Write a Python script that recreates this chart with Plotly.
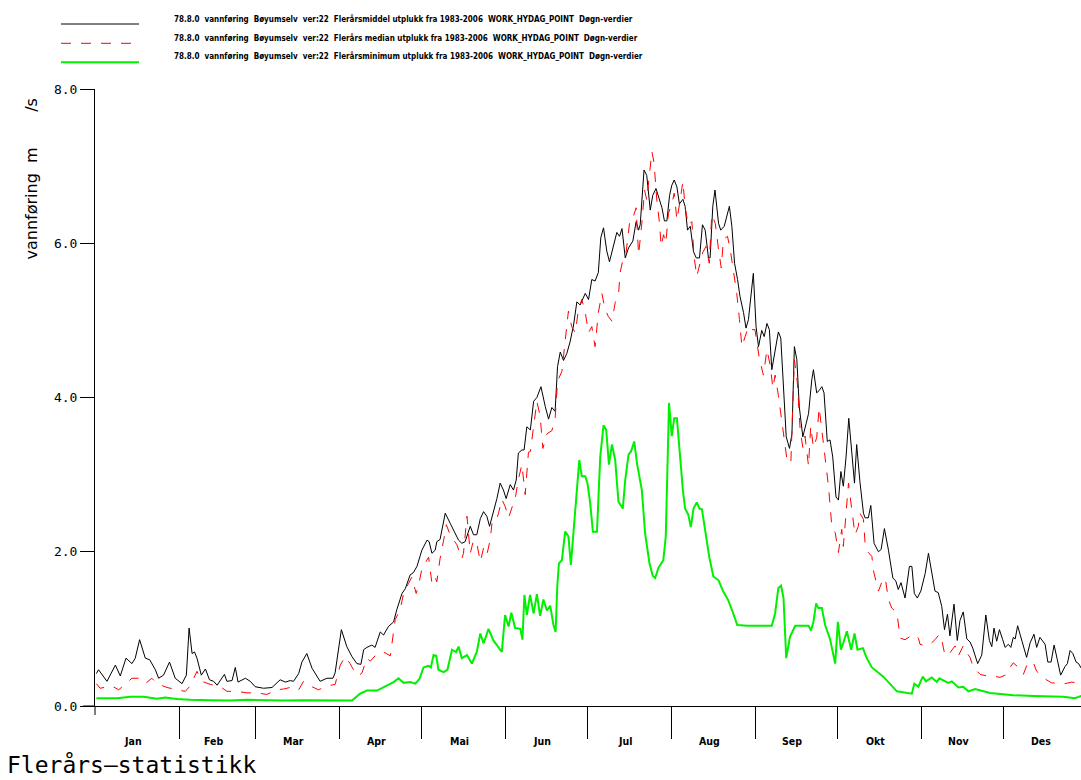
import plotly.graph_objects as go

# ---------------- data ----------------
months = ["Jan", "Feb", "Mar", "Apr", "Mai", "Jun", "Jul", "Aug", "Sep", "Okt", "Nov", "Des"]
month_starts = [0, 31, 59, 90, 120, 151, 181, 212, 243, 273, 304, 334, 365]
y_ticks = [0, 2, 4, 6, 8]
y_tick_text = ["0.0", "2.0", "4.0", "6.0", "8.0"]

legend_names = [
    "78.8.0  vannføring  Bøyumselv  ver:22  Flerårsmiddel utplukk fra 1983-2006  WORK_HYDAG_POINT  Døgn-verdier",
    "78.8.0  vannføring  Bøyumselv  ver:22  Flerårs median utplukk fra 1983-2006  WORK_HYDAG_POINT  Døgn-verdier",
    "78.8.0  vannføring  Bøyumselv  ver:22  Flerårsminimum utplukk fra 1983-2006  WORK_HYDAG_POINT  Døgn-verdier",
]

mean_days = [0.5, 1.3, 4.4, 7.5, 9.3, 11.4, 13.6, 14.8, 16.4, 18.5, 20.1, 22.2, 23.4, 25.2, 27.4, 29.5, 32.0, 33.6, 34.6, 35.7,
             36.6, 37.5, 39.1, 40.6, 42.1, 43.6, 44.9, 47.6, 48.5, 50.4, 51.6, 52.6, 55.3, 57.1, 58.9, 62.0, 65.1, 68.1, 70.0, 71.8,
             73.0, 74.9, 76.1, 77.9, 79.8, 82.8, 85.3, 87.5, 88.3, 90.6, 92.6, 94.5, 96.3, 97.8, 98.8, 100.0, 101.8, 103.0, 104.9, 106.1,
             107.9, 109.8, 111.0, 112.9, 114.1, 115.9, 117.1, 118.4, 120.2, 122.1, 122.9, 123.9, 125.1, 125.7, 126.9, 128.8, 130.6, 132.5, 133.7, 134.9,
             136.1, 138.0, 139.2, 140.4, 141.7, 142.9, 144.1, 145.1, 146.5, 147.8, 149.0, 150.2, 151.2, 152.7, 153.9, 154.9, 155.7, 157.0, 157.8, 158.8,
             160.1, 161.3, 162.5, 164.0, 165.6, 166.8, 168.0, 169.2, 170.1, 171.1, 172.3, 173.5, 174.7, 176.0, 177.2, 178.4, 180.3, 181.5, 182.7, 183.9,
             185.1, 186.0, 187.0, 188.2, 189.2, 190.7, 191.9, 192.9, 193.8, 195.0, 196.2, 197.8, 199.0, 199.9, 200.5, 201.9, 202.9, 204.2, 205.1, 206.3,
             207.6, 208.5, 209.4, 210.3, 211.3, 212.1, 213.0, 214.0, 214.9, 216.2, 217.0, 217.9, 218.9, 220.1, 221.1, 222.3, 223.4, 224.4, 225.6, 226.2,
             227.2, 228.0, 229.3, 230.1, 231.4, 232.3, 233.3, 234.2, 235.2, 236.3, 237.2, 238.5, 239.4, 240.3, 241.2, 242.1, 243.1, 244.0, 245.2, 246.1,
             247.1, 248.0, 248.9, 250.1, 251.3, 252.2, 253.2, 254.2, 255.4, 256.3, 257.2, 258.1, 259.0, 260.3, 261.5, 262.4, 263.6, 264.2, 265.4, 266.3,
             267.3, 268.1, 269.3, 270.3, 271.3, 272.5, 273.4, 274.3, 275.2, 276.2, 277.2, 278.3, 279.3, 280.1, 281.3, 282.6, 283.2, 284.4, 285.3, 286.5,
             288.1, 289.1, 290.3, 291.8, 293.4, 294.5, 295.4, 296.4, 297.9, 299.5, 300.4, 301.3, 302.4, 303.7, 305.3, 306.5, 307.7, 308.9, 310.1, 311.4,
             312.4, 313.5, 314.4, 315.9, 317.1, 318.1, 319.3, 320.6, 321.8, 322.8, 324.6, 326.1, 327.6, 328.9, 329.8, 330.6, 331.6, 332.6, 333.8, 334.7,
             335.9, 336.8, 337.7, 338.4, 339.3, 340.8, 342.6, 343.9, 345.3, 346.3, 347.5, 349.4, 350.4, 351.6, 352.7, 353.9, 355.1, 356.7, 357.6, 358.6,
             359.6, 360.8, 361.7, 362.7, 364.0]
mean_vals = [0.42, 0.47, 0.32, 0.53, 0.39, 0.62, 0.55, 0.62, 0.86, 0.62, 0.60, 0.47, 0.36, 0.40, 0.57, 0.36, 0.29, 0.40, 1.01, 0.68,
             0.70, 0.62, 0.40, 0.48, 0.34, 0.32, 0.27, 0.41, 0.32, 0.33, 0.50, 0.31, 0.36, 0.32, 0.25, 0.23, 0.24, 0.34, 0.31, 0.33,
             0.32, 0.42, 0.57, 0.68, 0.49, 0.32, 0.36, 0.36, 0.43, 0.99, 0.77, 0.64, 0.55, 0.54, 0.73, 0.76, 0.79, 0.76, 0.96, 0.92,
             1.03, 1.09, 1.25, 1.46, 1.52, 1.70, 1.73, 1.81, 2.02, 2.15, 2.13, 1.98, 2.02, 2.13, 2.16, 2.50, 2.37, 2.24, 2.15, 2.11,
             2.13, 2.33, 2.22, 2.22, 2.43, 2.52, 2.46, 2.33, 2.50, 2.69, 2.89, 2.80, 2.69, 2.87, 2.80, 2.93, 3.28, 3.32, 3.32, 3.62,
             3.58, 3.95, 4.00, 4.14, 3.88, 3.72, 3.87, 3.82, 4.40, 4.59, 4.48, 4.57, 4.72, 4.94, 5.24, 5.20, 5.35, 5.27, 5.53, 5.51,
             5.62, 6.07, 6.20, 5.90, 5.76, 5.96, 6.14, 6.09, 6.19, 5.81, 5.94, 6.03, 6.28, 6.17, 6.24, 6.95, 6.88, 6.43, 6.62, 6.71,
             6.54, 6.46, 6.29, 6.29, 6.62, 6.75, 6.82, 6.73, 6.51, 6.57, 6.48, 6.17, 6.22, 5.89, 5.81, 5.81, 6.24, 6.17, 5.81, 5.81,
             6.48, 6.69, 6.26, 6.17, 6.22, 6.35, 6.48, 6.22, 5.74, 5.53, 5.31, 5.10, 4.90, 5.01, 5.31, 5.61, 4.92, 4.66, 4.87, 4.79,
             4.96, 4.88, 4.36, 4.62, 4.85, 4.77, 4.10, 3.49, 3.34, 3.53, 4.66, 4.49, 3.88, 3.49, 3.66, 3.79, 4.23, 4.36, 4.06, 4.09,
             4.14, 4.06, 3.43, 3.45, 3.23, 2.71, 2.67, 3.04, 2.85, 3.23, 3.73, 3.32, 2.89, 3.39, 2.91, 2.50, 2.44, 2.44, 2.60, 2.11,
             2.00, 2.03, 2.30, 2.02, 1.66, 1.62, 1.51, 1.60, 1.40, 1.81, 1.81, 1.46, 1.40, 1.49, 1.72, 1.98, 1.72, 1.49, 1.47, 1.29,
             0.99, 1.19, 0.91, 1.32, 0.85, 1.11, 1.22, 0.87, 0.83, 0.75, 0.55, 0.66, 1.18, 0.85, 0.77, 1.01, 0.84, 0.99, 0.86, 0.76,
             0.80, 0.76, 0.89, 0.87, 1.04, 0.85, 0.63, 0.82, 0.93, 0.76, 0.89, 0.80, 0.57, 0.57, 0.79, 0.60, 0.40, 0.51, 0.55, 0.72,
             0.68, 0.57, 0.55, 0.49, 0.47]

median_days = [0.5, 1.9, 6.2, 8.7, 13.6, 16.0, 18.5, 20.9, 22.8, 26.5, 30.1, 33.2, 35.0, 37.5, 39.3, 42.4, 46.1, 48.5, 52.2, 55.9,
               59.6, 63.2, 66.9, 69.3, 73.0, 74.9, 76.7, 79.8, 82.2, 85.3, 88.3, 90.2, 92.0, 93.8, 95.7, 96.9, 98.2, 100.0, 101.2, 103.0,
               104.9, 106.1, 108.6, 109.2, 110.4, 112.2, 113.5, 115.3, 116.5, 118.1, 119.0, 120.2, 121.4, 122.7, 123.9, 125.1, 125.7, 126.9, 128.2, 129.2,
               130.6, 131.8, 133.1, 134.9, 135.5, 136.8, 138.0, 139.2, 140.4, 141.7, 142.9, 144.1, 145.3, 146.0, 147.2, 148.4, 149.6, 150.8, 152.1, 153.3,
               154.5, 155.7, 157.0, 158.2, 159.4, 160.1, 161.3, 162.5, 163.7, 164.7, 166.2, 168.0, 169.2, 170.1, 171.7, 172.9, 174.1, 175.3, 176.6, 177.8,
               179.0, 180.3, 181.5, 182.7, 183.9, 185.1, 186.4, 187.6, 188.8, 190.1, 191.3, 192.5, 193.1, 194.3, 195.3, 196.8, 198.0, 199.0, 199.9, 201.1,
               202.1, 202.9, 203.9, 204.8, 205.6, 206.6, 207.6, 208.2, 209.1, 209.9, 210.9, 212.1, 213.0, 214.0, 215.2, 216.2, 217.0, 218.2, 219.5, 220.3,
               221.3, 222.5, 223.5, 224.7, 225.9, 226.8, 228.1, 229.3, 230.3, 231.1, 232.6, 233.6, 234.8, 236.0, 237.0, 237.9, 239.1, 240.3, 241.5, 242.7,
               244.3, 245.8, 247.1, 248.3, 249.3, 250.1, 251.3, 252.6, 253.8, 254.6, 255.9, 257.2, 258.3, 259.3, 260.3, 261.1, 262.4, 263.2, 264.2, 265.4,
               266.3, 267.3, 268.5, 269.7, 271.0, 272.2, 273.4, 274.6, 275.2, 276.5, 277.1, 278.3, 279.5, 280.7, 281.3, 282.6, 283.2, 284.4, 285.7, 286.3,
               288.1, 289.3, 290.6, 291.8, 293.0, 294.9, 296.1, 297.9, 299.7, 301.0, 302.8, 303.4, 305.3, 307.1, 308.9, 310.5, 311.4, 312.6, 314.4, 316.3,
               317.5, 319.3, 320.6, 321.8, 323.0, 325.5, 327.9, 330.4, 332.8, 335.3, 336.5, 337.7, 339.6, 341.4, 342.6, 343.9, 345.1, 346.3, 348.2, 349.4,
               351.8, 354.9, 356.7, 359.2, 362.6, 364.0]
median_vals = [0.29, 0.23, 0.26, 0.21, 0.36, 0.36, 0.29, 0.36, 0.29, 0.24, 0.21, 0.19, 0.26, 0.45, 0.32, 0.28, 0.25, 0.19, 0.19, 0.17,
               0.17, 0.15, 0.21, 0.22, 0.25, 0.21, 0.32, 0.25, 0.21, 0.26, 0.28, 0.53, 0.64, 0.55, 0.43, 0.39, 0.43, 0.62, 0.58, 0.65,
               0.70, 0.70, 0.65, 0.79, 1.12, 1.25, 1.46, 1.59, 1.67, 1.46, 1.56, 1.78, 1.86, 1.93, 1.59, 1.67, 1.61, 1.91, 2.15, 2.35,
               2.22, 2.15, 2.09, 1.91, 1.98, 2.46, 1.98, 2.15, 2.11, 1.87, 2.05, 1.96, 2.15, 2.37, 2.37, 2.50, 2.68, 2.59, 2.44, 2.57,
               2.68, 2.94, 3.13, 2.74, 3.29, 3.30, 3.66, 3.95, 3.76, 3.34, 3.53, 3.57, 3.72, 4.21, 4.34, 4.71, 5.12, 4.92, 4.84, 5.14,
               5.27, 5.10, 4.84, 4.92, 4.66, 5.10, 5.35, 5.14, 5.05, 4.99, 5.23, 5.32, 5.62, 5.81, 5.88, 6.33, 6.35, 6.46, 5.85, 6.26,
               6.69, 6.56, 6.88, 7.19, 7.04, 6.56, 6.26, 5.96, 6.11, 6.00, 6.39, 6.50, 6.65, 6.30, 6.56, 6.80, 6.47, 6.23, 6.28, 5.83,
               5.57, 5.74, 5.88, 5.96, 5.74, 6.37, 6.26, 5.92, 5.68, 6.05, 6.09, 5.92, 5.66, 5.35, 5.01, 4.66, 4.79, 4.92, 4.88, 4.88,
               4.51, 4.29, 4.62, 4.42, 4.12, 4.29, 4.03, 3.67, 3.37, 3.16, 3.16, 4.49, 4.19, 3.59, 3.35, 3.50, 3.11, 3.63, 3.35, 3.48,
               3.87, 3.57, 3.29, 2.86, 2.32, 2.25, 1.99, 2.29, 2.07, 2.59, 2.89, 2.55, 2.22, 2.33, 2.50, 2.42, 2.11, 1.99, 1.94, 1.75,
               1.49, 1.60, 1.66, 1.38, 1.27, 1.21, 0.88, 0.86, 0.90, 0.93, 0.88, 0.80, 0.78, 0.80, 0.86, 0.93, 0.86, 0.65, 0.69, 0.78,
               0.65, 0.78, 0.69, 0.63, 0.50, 0.41, 0.39, 0.39, 0.37, 0.41, 0.50, 0.56, 0.50, 0.41, 0.52, 0.58, 0.56, 0.45, 0.39, 0.35,
               0.30, 0.29, 0.29, 0.31, 0.29, 0.30]

min_days = [0.5, 4.4, 8.1, 13.0, 17.9, 22.8, 25.8, 30.1, 35.0, 42.4, 49.7, 55.9, 62.0, 69.3, 76.7, 84.0, 92.6, 94.5, 97.5, 100.0,
            103.7, 107.4, 109.8, 111.6, 113.5, 115.9, 117.8, 119.3, 120.8, 122.6, 123.5, 124.5, 125.5, 126.3, 128.2, 129.6, 131.3, 132.8, 133.7, 134.9,
            136.8, 138.6, 140.4, 141.7, 142.9, 144.7, 146.5, 147.8, 149.6, 150.8, 152.1, 153.1, 154.5, 156.4, 157.2, 157.9, 158.8, 160.0, 161.3, 162.5,
            163.7, 164.9, 166.2, 167.4, 168.6, 169.4, 170.0, 170.6, 171.7, 172.9, 174.1, 175.0, 176.6, 178.1, 179.0, 180.3, 181.1, 182.1, 183.1, 184.6,
            185.8, 187.0, 188.0, 189.0, 190.1, 191.3, 192.5, 194.1, 195.0, 196.2, 197.1, 198.3, 199.3, 201.1, 202.3, 203.9, 205.1, 206.0, 207.2, 209.0,
            209.9, 210.5, 211.1, 212.1, 213.0, 214.0, 215.2, 216.2, 217.0, 218.2, 219.1, 220.1, 221.3, 222.3, 223.2, 224.4, 225.9, 227.4, 229.3, 231.1,
            232.9, 234.5, 236.2, 240.0, 244.0, 248.9, 250.1, 251.3, 252.3, 253.2, 254.2, 255.6, 257.5, 262.4, 263.3, 264.2, 265.2, 266.0, 267.3, 268.5,
            270.3, 272.2, 273.2, 274.3, 275.2, 276.5, 278.1, 279.3, 280.4, 282.4, 283.8, 285.7, 289.9, 294.9, 300.4, 301.3, 302.8, 304.4, 305.6, 307.7,
            309.6, 310.5, 313.8, 315.1, 317.5, 319.3, 321.2, 323.6, 329.2, 337.7, 345.1, 356.1, 360.4, 362.6, 364.0]
min_vals = [0.10, 0.095, 0.10, 0.12, 0.12, 0.095, 0.11, 0.09, 0.08, 0.075, 0.07, 0.08, 0.075, 0.07, 0.075, 0.07, 0.07, 0.07, 0.16, 0.20,
            0.20, 0.27, 0.31, 0.36, 0.30, 0.31, 0.29, 0.35, 0.50, 0.52, 0.50, 0.66, 0.65, 0.47, 0.44, 0.47, 0.73, 0.70, 0.77, 0.62,
            0.66, 0.55, 0.70, 0.94, 0.81, 1.00, 0.85, 0.79, 0.70, 1.18, 1.03, 1.21, 1.01, 1.00, 0.86, 1.44, 1.18, 1.44, 1.20, 1.45,
            1.17, 1.38, 1.24, 1.30, 1.05, 0.96, 1.55, 1.85, 1.89, 2.26, 2.20, 1.83, 2.50, 3.19, 2.98, 2.98, 2.89, 2.63, 2.26, 2.26,
            3.23, 3.64, 3.58, 3.13, 3.39, 3.19, 2.65, 2.56, 2.93, 3.26, 3.30, 3.43, 3.15, 2.80, 2.24, 1.85, 1.69, 1.66, 1.79, 1.89,
            2.20, 3.02, 3.93, 3.50, 3.73, 3.73, 3.19, 2.80, 2.56, 2.48, 2.32, 2.56, 2.64, 2.56, 2.55, 2.30, 1.93, 1.68, 1.63, 1.48,
            1.37, 1.22, 1.05, 1.04, 1.04, 1.04, 1.20, 1.53, 1.56, 1.40, 0.62, 0.90, 1.04, 1.04, 0.98, 1.09, 1.33, 1.27, 1.27, 1.05,
            0.87, 0.55, 1.09, 0.73, 0.82, 0.97, 0.73, 0.94, 0.73, 0.75, 0.62, 0.50, 0.38, 0.19, 0.16, 0.29, 0.25, 0.38, 0.32, 0.37,
            0.31, 0.36, 0.30, 0.32, 0.24, 0.25, 0.19, 0.22, 0.17, 0.14, 0.13, 0.12, 0.10, 0.13, 0.12]

# ---------------- layout geometry ----------------
W, H = 1081, 780
L, T, B, R = 95, 89, 74, 0
PW, PH = W - L - R, H - T - B


def px(xp):
    return (xp - L) / PW


def py(yp):
    return (T + PH - yp) / PH


NARROW = "Liberation Sans Narrow, Arial Narrow, DejaVu Sans Condensed, sans-serif"
GREEN = "#00f000"
RED = "#ff0000"

fig = go.Figure()
fig.add_trace(go.Scatter(x=mean_days, y=mean_vals, mode="lines", name=legend_names[0],
                         line=dict(color="black", width=1)))
fig.add_trace(go.Scatter(x=median_days, y=median_vals, mode="lines", name=legend_names[1],
                         line=dict(color=RED, width=1, dash="10px,10px")))
fig.add_trace(go.Scatter(x=min_days, y=min_vals, mode="lines", name=legend_names[2],
                         line=dict(color=GREEN, width=2)))

shapes = [
    # x-axis line extends a little to the left of the y axis
    dict(type="line", xref="paper", yref="paper", x0=px(83), x1=0, y0=0, y1=0,
         line=dict(color="black", width=1)),
    # y-axis line extends a little below the x axis
    dict(type="line", xref="paper", yref="paper", x0=0, x1=0, y0=py(715), y1=0,
         line=dict(color="black", width=1)),
]
legend_styles = [dict(color="black", width=1), dict(color=RED, width=1, dash="10px,10px"),
                 dict(color=GREEN, width=2)]
legend_line_y = [24, 43.3, 62.3]
legend_text_y = [19.5, 38, 56.5]
for st, ly in zip(legend_styles, legend_line_y):
    shapes.append(dict(type="line", xref="paper", yref="paper", x0=px(61), x1=px(139),
                       y0=py(ly), y1=py(ly), line=st))

annotations = []
for name, ty in zip(legend_names, legend_text_y):
    annotations.append(dict(text=name, xref="paper", yref="paper", x=px(172), y=py(ty),
                            xanchor="left", yanchor="middle", showarrow=False,
                            font=dict(family=NARROW, size=8, color="black", weight="bold")))
for i, m in enumerate(months):
    mid = (month_starts[i] + month_starts[i + 1]) / 2 - 1.5
    annotations.append(dict(text=m, xref="x", yref="paper", x=mid, y=py(741),
                            xanchor="center", yanchor="middle", showarrow=False,
                            font=dict(family=NARROW, size=10.5, color="black", weight="bold")))
annotations.append(dict(text="vannføring\u00a0\u00a0m" + "\u00a0" * 7 + "/s", xref="paper", yref="paper",
                        x=px(31), y=py(97), xanchor="center", yanchor="top", textangle=-90,
                        showarrow=False, font=dict(family="DejaVu Sans", size=16, color="black")))
annotations.append(dict(text="Flerårs—statistikk", xref="paper", yref="paper",
                        x=px(6), y=py(779), xanchor="left", yanchor="bottom", showarrow=False,
                        borderpad=0,
                        font=dict(family="DejaVu Sans Mono", size=23, color="black")))

fig.update_layout(
    width=W, height=H,
    margin=dict(l=L, r=R, t=T, b=B, pad=0),
    paper_bgcolor="white", plot_bgcolor="white",
    showlegend=False,
    shapes=shapes,
    annotations=annotations,
    xaxis=dict(range=[0, 362.6], showgrid=False, zeroline=False, showline=True,
               linecolor="black", linewidth=1, ticks="outside", ticklen=32, tickwidth=1,
               tickcolor="black", tickmode="array", tickvals=month_starts[1:-1],
               ticktext=[""] * (len(month_starts) - 2)),
    yaxis=dict(range=[0, 8], showgrid=False, zeroline=False, showline=True,
               linecolor="black", linewidth=1, ticks="outside", ticklen=14, tickwidth=1,
               tickcolor="black", tickmode="array", tickvals=y_ticks, ticktext=y_tick_text,
               tickfont=dict(family="DejaVu Sans Mono", size=13, color="black")),
)

fig.write_html("out.html", config={"displayModeBar": False},
               post_script="document.body.style.margin='0';")
